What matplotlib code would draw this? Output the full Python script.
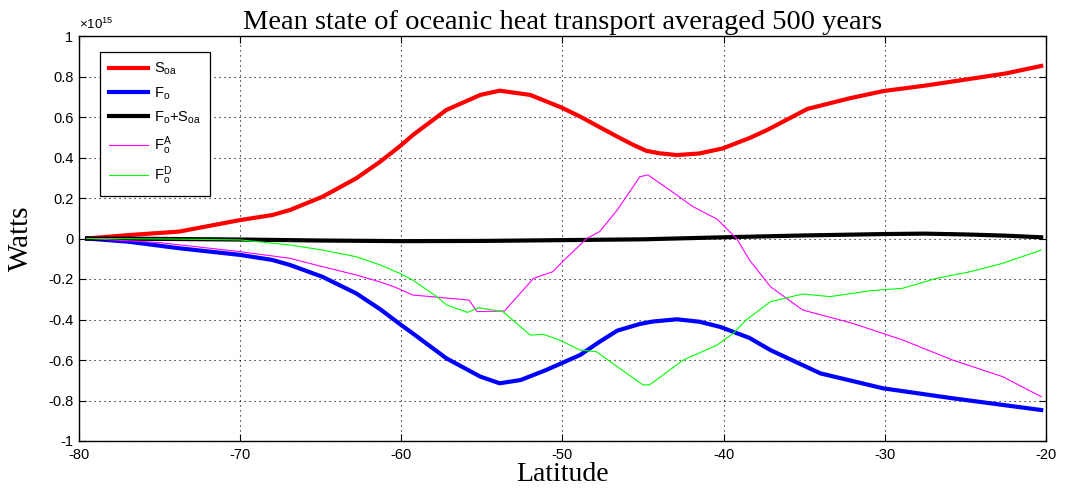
import matplotlib
matplotlib.use("Agg")
import matplotlib.pyplot as plt
import numpy as np

plt.rcParams['font.family'] = ['Liberation Sans', 'DejaVu Sans']
plt.rcParams['axes.unicode_minus'] = False
plt.rcParams['mathtext.default'] = 'regular'

# Values in units of 1e15 W
soa_x = [-79.5, -76.9, -73.8, -70, -68, -66.9, -64.9, -62.8, -61.3, -60.1, -59.3, -57.2, -55.1, -53.9,
         -52.0, -50.1, -48.9, -47.7, -46.6, -45.6, -44.8, -44.0, -42.9, -41.5, -40.05, -38.4, -37.3,
         -34.8, -32.2, -30.1, -27.5, -24.9, -22.5, -20.3]
soa_y = [0, 0.017, 0.034, 0.091, 0.116, 0.141, 0.206, 0.297, 0.38, 0.455, 0.51, 0.635, 0.709, 0.73,
         0.709, 0.648, 0.602, 0.55, 0.503, 0.462, 0.433, 0.421, 0.412, 0.42, 0.445, 0.496, 0.536,
         0.64, 0.692, 0.728, 0.755, 0.786, 0.815, 0.852]

fo_x = [-79.5, -76.9, -73.8, -70, -68, -66.9, -64.9, -62.8, -61.3, -60.1, -59.3, -57.2, -55.1, -53.9,
        -52.6, -51.0, -48.9, -47.7, -46.6, -45.2, -44.4, -42.9, -41.5, -40.2, -38.4, -37.1, -34.0,
        -30.1, -25.8, -20.3]
fo_y = [0, -0.016, -0.048, -0.081, -0.106, -0.131, -0.189, -0.271, -0.35, -0.422, -0.468, -0.592, -0.682,
        -0.715, -0.699, -0.649, -0.575, -0.51, -0.455, -0.422, -0.41, -0.399, -0.411, -0.437, -0.491,
        -0.551, -0.666, -0.74, -0.789, -0.847]

sum_x = [-79.5, -75, -70, -65, -60, -55, -50, -45, -40, -35, -30, -27.5, -25, -22.5, -20.3]
sum_y = [0, -0.002, -0.005, -0.01, -0.013, -0.012, -0.008, -0.004, 0.006, 0.015, 0.022, 0.024, 0.02, 0.014, 0.006]

foa_x = [-79.5, -75, -70, -66.9, -64.9, -62.8, -61.3, -60.4, -59.3, -55.8, -55.3, -53.6, -51.8, -50.6,
         -50.0, -48.5, -47.7, -46.6, -45.2, -44.7, -43.2, -41.9, -40.4, -39.2, -38.4, -37.1, -35.1,
         -32.0, -28.9, -25.8, -22.7, -20.3]
foa_y = [0, -0.02, -0.065, -0.098, -0.139, -0.18, -0.215, -0.24, -0.279, -0.304, -0.361, -0.358, -0.197,
         -0.164, -0.115, 0.0, 0.034, 0.141, 0.305, 0.314, 0.231, 0.157, 0.095, 0.0, -0.106, -0.238, -0.353,
         -0.419, -0.501, -0.6, -0.682, -0.781]

fod_x = [-79.5, -75, -70, -66.9, -64.9, -62.8, -61.3, -60.1, -59.3, -57.8, -57.2, -55.9, -55.2, -53.7,
         -52.0, -51.2, -50.2, -48.9, -47.9, -46.6, -45.0, -44.6, -42.5, -40.4, -39.4, -38.6, -37.1,
         -35.1, -33.4, -30.9, -28.9, -26.8, -24.7, -22.7, -20.3]
fod_y = [0, -0.002, -0.007, -0.032, -0.057, -0.09, -0.131, -0.172, -0.205, -0.287, -0.328, -0.365, -0.342,
         -0.361, -0.477, -0.473, -0.501, -0.551, -0.559, -0.633, -0.723, -0.723, -0.6, -0.526, -0.468,
         -0.402, -0.312, -0.274, -0.287, -0.258, -0.246, -0.197, -0.164, -0.123, -0.057]

xticks = [-80, -70, -60, -50, -40, -30, -20]
yticks = [-1, -0.8, -0.6, -0.4, -0.2, 0, 0.2, 0.4, 0.6, 0.8, 1]
yticklabels = ['-1', '-0.8', '-0.6', '-0.4', '-0.2', '0', '0.2', '0.4', '0.6', '0.8', '1']

fig = plt.figure(figsize=(10.65, 4.92), dpi=100)
ax = fig.add_axes([79/1065, 51/492, (1046-79)/1065, (441-36)/492])

ax.plot(soa_x, soa_y, color='#ff0000', lw=3, label=r'S$_{oa}$', zorder=3)
ax.plot(fo_x, fo_y, color='#0000ff', lw=3, label=r'F$_o$', zorder=3)
ax.plot(sum_x, sum_y, color='black', lw=3, label=r'F$_o$+S$_{oa}$', zorder=3)
ax.plot(foa_x, foa_y, color='#ff00ff', lw=0.8, label=r'F$_o^A$', zorder=3)
ax.plot(fod_x, fod_y, color='#00ff00', lw=0.8, label=r'F$_o^D$', zorder=3)

ax.set_xlim(-80, -20)
ax.set_ylim(-1, 1)
ax.set_xticks(xticks)
ax.set_xticklabels([str(t) for t in xticks])
ax.set_yticks(yticks)
ax.set_yticklabels(yticklabels)
ax.tick_params(direction='in', top=True, right=True, length=5, labelsize=10.5, width=0.8)
ax.tick_params(axis='x', pad=5)
ax.tick_params(axis='y', pad=4)
ax.grid(True, color='black', linestyle=(0, (1, 3.5)), linewidth=0.8)
for s in ax.spines.values():
    s.set_linewidth(1.0)

ax.set_title('Mean state of oceanic heat transport averaged 500 years',
             family=['Liberation Serif'], fontsize=20.5, pad=5)
ax.set_xlabel('Latitude', family=['Liberation Serif'], fontsize=20, labelpad=0)
ax.set_ylabel('Watts', family=['Liberation Serif'], fontsize=21, labelpad=10)
ax.text(0.0, 1.01, r'$\times$10$^{15}$', transform=ax.transAxes, fontsize=9.5, ha='left', va='bottom')

leg = ax.legend(loc='upper left', bbox_to_anchor=(21/967, 1-16/405), borderaxespad=0,
                fancybox=False, edgecolor='black', framealpha=1, fontsize=10.5,
                handlelength=2.7, labelspacing=0.55, borderpad=0.6, handletextpad=0.4)
leg.get_frame().set_linewidth(0.9)

fig.savefig('out.png', dpi=100)
